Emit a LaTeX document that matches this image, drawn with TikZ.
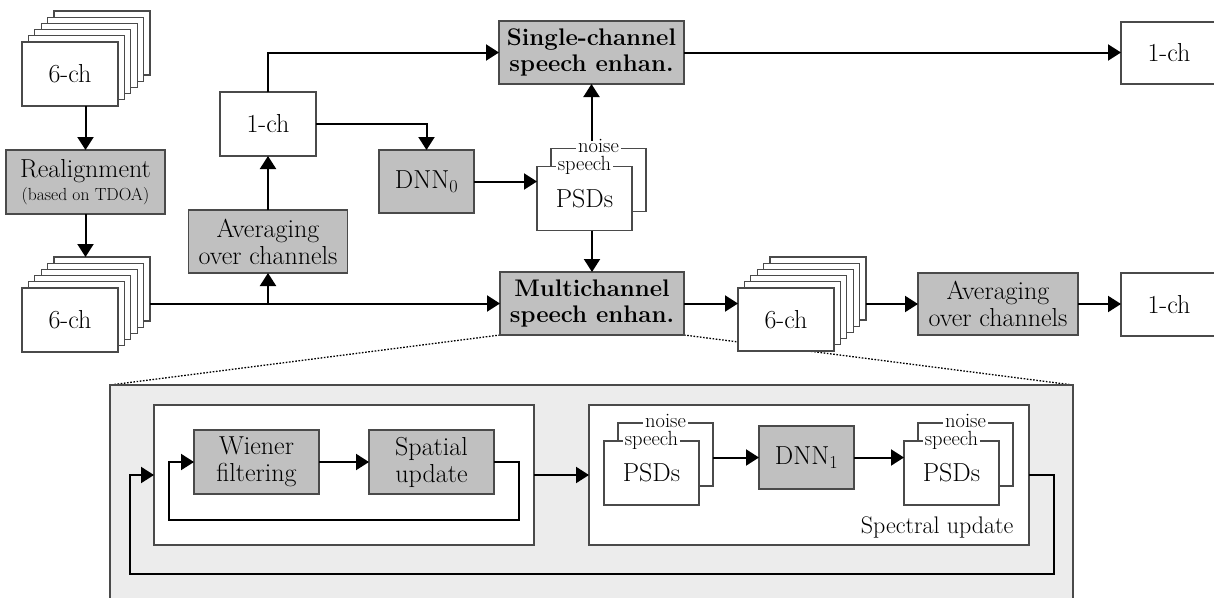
\documentclass[tikz,border=0pt]{standalone}
\usepackage{fontspec}
\usetikzlibrary{arrows.meta,calc,backgrounds}
\definecolor{boxgray}{HTML}{C0C0C0}
\definecolor{biggray}{HTML}{ECECEC}
\definecolor{edge}{HTML}{4A4A4A}
\tikzset{
  base/.style={draw=edge, line width=1.3pt, inner sep=0pt, outer sep=0pt, align=center, font=\fontsize{26}{27}\selectfont},
  wbox/.style={base, fill=white},
  gbox/.style={base, fill=boxgray},
  bbox/.style={gbox, font=\fontsize{24}{26}\selectfont\bfseries},
  lab/.style={fill=white, inner xsep=2pt, inner ysep=0.5pt, outer sep=0pt, text height=11pt, text depth=3pt, font=\fontsize{20.5}{21}\selectfont},
  conn/.style={line width=2pt},
  arr/.style={conn, -{Triangle[length=13pt,width=16pt]}},
  dots/.style={line width=1.3pt, dash pattern=on 1.6pt off 1.6pt},
}
\newcommand{\chstack}[4]{%
  \foreach \i in {5,4,3,2,1} {
    \node[wbox, minimum width=96, minimum height=#4] (#1\i) at ({#2+6.4*\i},{#3-6.2*\i}) {};
  }
  \node[wbox, minimum width=96, minimum height=#4] (#1) at (#2,#3) {6-ch};
}
\newcommand{\psdgroup}[3]{%
  \node[wbox, minimum width=95, minimum height=63] (#1b) at ({#2+14},{#3-18.5}) {};
  \node[lab] (#1n) at (#1b.north) {noise};
  \node[wbox, minimum width=95, minimum height=64] (#1f) at (#2,#3) {\raisebox{-3pt}{PSDs}};
  \node[lab] (#1s) at (#1f.north) {speech};
}
\begin{document}
\begin{tikzpicture}[x=1pt,y=-1pt]
\useasboundingbox (0,0) rectangle (1214,597);
% lower detail panel
\node[base, fill=biggray, minimum width=963, minimum height=235] (big) at (591.5,502.5) {};
\node[wbox, minimum width=380, minimum height=140] (L) at (344,475) {};
\node[wbox, minimum width=440, minimum height=140] (R) at (809,475) {};
\node[gbox, minimum width=125, minimum height=64] (wiener) at (256.5,462) {Wiener\\filtering};
\node[gbox, minimum width=125, minimum height=64] (spatial) at (431.5,462) {Spatial\\update};
\psdgroup{psdA}{651.5}{473}
\node[gbox, minimum width=95, minimum height=63] (dnn1) at (806.5,457.5) {DNN\textsubscript{1}};
\psdgroup{psdB}{951.5}{473}
\node[anchor=east, font=\fontsize{24}{26}\selectfont] (spec) at (1017,527) {Spectral update};

% upper chain
\chstack{sa}{70}{74}{64}
\node[gbox, minimum width=159, minimum height=64] (real) at (85.5,182) {Realignment\\[-4pt]{\fontsize{17.5}{19}\selectfont (based on TDOA)}};
\chstack{sb}{70}{320}{64}
\node[gbox, minimum width=159, minimum height=63] (avg1) at (268,241.5) {Averaging\\over channels};
\node[wbox, minimum width=96, minimum height=64] (ch1a) at (268,124) {1-ch};
\node[bbox, minimum width=185, minimum height=63] (single) at (591.5,52.5) {Single-channel\\speech enhan.};
\node[gbox, minimum width=95, minimum height=63] (dnn0) at (426.5,181.5) {DNN\textsubscript{0}};
\psdgroup{psd0}{584.5}{198.5}
\node[bbox, minimum width=184, minimum height=63] (multi) at (592,303.5) {Multichannel\\speech enhan.};
\chstack{sc}{786}{319.5}{63}
\node[gbox, minimum width=160, minimum height=62] (avg2) at (998,304) {Averaging\\over channels};
\node[wbox, minimum width=96, minimum height=62] (ch1b) at (1169,53) {1-ch};
\node[wbox, minimum width=96, minimum height=63] (ch1c) at (1169,304.5) {1-ch};

\begin{pgfonlayer}{background}
\draw[dots] (multi.south west) -- (big.north west);
\draw[dots] (multi.south east) -- (big.north east);
\end{pgfonlayer}

% connectors
\draw[arr] (real.north |- sa.south) -- (real.north);
\draw[arr] (real.south) -- (real.south |- sb5.north);
\draw[arr] (sb5.east |- multi.west) -- (multi.west);
\draw[arr] (avg1.south |- multi.west) -- (avg1.south);
\draw[arr] (avg1.north) -- (ch1a.south);
\draw[arr] (ch1a.north) |- (single.west);
\draw[arr] (ch1a.east) -| (dnn0.north);
\draw[arr] (dnn0.east) -- (dnn0.east -| psd0f.west);
\draw[arr] (single.south |- psd0n.north) -- (single.south);
\draw[arr] (multi.north |- psd0f.south) -- (multi.north);
\draw[arr] (multi.east) -- (multi.east -| sc.west);
\draw[arr] (sc5.east |- avg2.west) -- (avg2.west);
\draw[arr] (avg2.east) -- (avg2.east -| ch1c.west);
\draw[arr] (single.east) -- (single.east -| ch1b.west);

\draw[arr] (wiener.east) -- (spatial.west);
\draw[arr] (spatial.east) -- ++(25,0) -- ++(0,58) -| ($(wiener.west)+(-25,0)$) -- (wiener.west);
\draw[arr] (L.east) -- (R.west);
\draw[arr] (psdAb.east |- dnn1.west) -- (dnn1.west);
\draw[arr] (dnn1.east) -- (dnn1.east -| psdBf.west);
\draw[arr] (R.east) -- ++(25,0) -- ++(0,99) -| ($(L.west)+(-24,0)$) -- (L.west);
\end{tikzpicture}
\end{document}
